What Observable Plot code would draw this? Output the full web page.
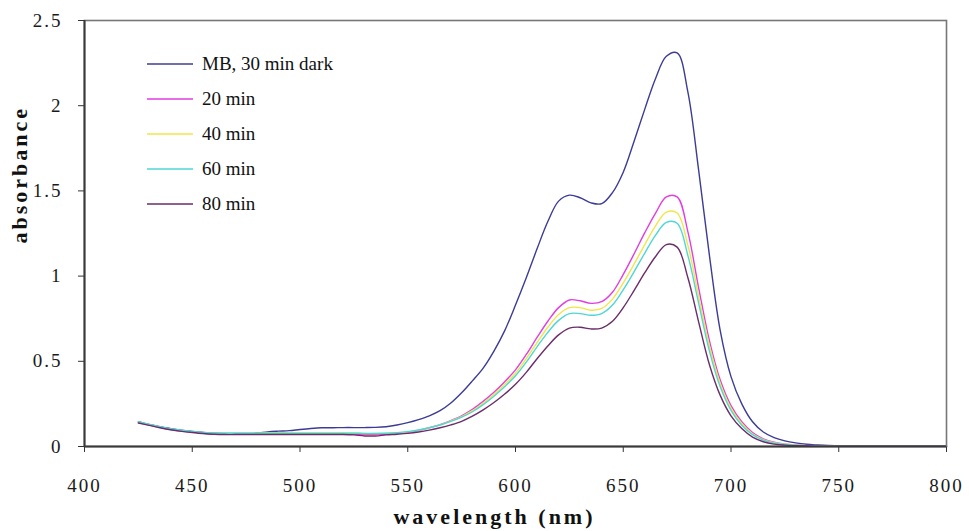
<!DOCTYPE html>
<html>
<head>
<meta charset="utf-8">
<script src="https://cdn.jsdelivr.net/npm/d3@7"></script>
<script src="https://cdn.jsdelivr.net/npm/@observablehq/plot@0.6"></script>
<style>
  html, body { margin: 0; padding: 0; background: #fff; }
  #wrap { position: relative; width: 969px; height: 531px; }
  #wrap svg text { font-family: "Liberation Serif", "Times New Roman", serif; }
  #legend { position: absolute; left: 147px; top: 0; font-family: "Liberation Serif", "Times New Roman", serif; font-size: 19px; color: #111; }
  .row { position: absolute; left: 0; height: 22px; display: flex; align-items: center; white-space: nowrap; }
  .row svg { margin-right: 9px; }
</style>
</head>
<body>
<div id="wrap"><div id="legend"></div></div>
<script>
const wavelengths = [425,430,435,440,445,450,455,460,465,470,475,480,485,490,495,500,505,510,515,520,525,530,535,540,545,550,555,560,565,570,575,580,585,590,595,600,605,610,615,620,625,630,635,640,645,650,655,660,665,670,675,680,685,690,695,700,705,710,715,720,725,730,735,740,745,750,755,760,765,770,775,780,785,790,795,800];

const mbDark = [0.145,0.130,0.116,0.105,0.095,0.088,0.082,0.078,0.077,0.077,0.077,0.079,0.086,0.090,0.093,0.100,0.106,0.110,0.110,0.111,0.111,0.111,0.112,0.116,0.126,0.140,0.158,0.180,0.210,0.255,0.315,0.385,0.460,0.560,0.680,0.830,0.990,1.160,1.320,1.440,1.475,1.460,1.430,1.425,1.490,1.610,1.790,1.980,2.160,2.290,2.310,2.080,1.620,1.120,0.680,0.410,0.250,0.145,0.085,0.052,0.033,0.021,0.013,0.009,0.006,0.005,0.004,0.004,0.003,0.003,0.003,0.003,0.003,0.003,0.003,0.003];

const min20 = [0.140,0.126,0.112,0.100,0.091,0.084,0.078,0.074,0.072,0.072,0.072,0.072,0.072,0.072,0.072,0.072,0.072,0.072,0.072,0.072,0.072,0.071,0.071,0.072,0.076,0.084,0.095,0.110,0.128,0.152,0.180,0.218,0.265,0.318,0.380,0.450,0.540,0.640,0.735,0.815,0.860,0.855,0.840,0.850,0.905,1.010,1.130,1.255,1.370,1.465,1.465,1.260,0.930,0.620,0.390,0.240,0.145,0.082,0.045,0.025,0.014,0.009,0.006,0.004,0.003,0.002,0.002,0.002,0.002,0.002,0.002,0.002,0.002,0.002,0.002,0.002];

const min40 = [0.142,0.128,0.114,0.102,0.093,0.086,0.080,0.077,0.076,0.076,0.077,0.078,0.080,0.081,0.080,0.080,0.079,0.079,0.079,0.079,0.079,0.076,0.076,0.078,0.080,0.086,0.096,0.110,0.127,0.150,0.176,0.210,0.255,0.305,0.365,0.430,0.515,0.610,0.700,0.775,0.815,0.815,0.800,0.810,0.865,0.960,1.070,1.185,1.295,1.375,1.370,1.180,0.880,0.590,0.370,0.225,0.135,0.075,0.040,0.022,0.013,0.008,0.005,0.004,0.003,0.002,0.002,0.002,0.002,0.002,0.002,0.002,0.002,0.002,0.002,0.002];

const min60 = [0.145,0.130,0.116,0.104,0.095,0.088,0.082,0.079,0.078,0.078,0.078,0.078,0.078,0.078,0.078,0.078,0.078,0.078,0.078,0.078,0.078,0.077,0.077,0.078,0.081,0.087,0.097,0.110,0.126,0.147,0.172,0.204,0.246,0.295,0.352,0.415,0.495,0.585,0.670,0.740,0.780,0.780,0.770,0.780,0.830,0.920,1.025,1.135,1.240,1.315,1.310,1.120,0.840,0.560,0.350,0.212,0.125,0.070,0.037,0.020,0.012,0.007,0.005,0.003,0.002,0.002,0.002,0.002,0.002,0.002,0.002,0.002,0.002,0.002,0.002,0.002];

const min80 = [0.138,0.124,0.110,0.098,0.089,0.082,0.076,0.072,0.070,0.070,0.070,0.070,0.070,0.070,0.070,0.070,0.070,0.070,0.070,0.070,0.068,0.062,0.062,0.068,0.072,0.077,0.085,0.096,0.110,0.127,0.148,0.178,0.215,0.258,0.308,0.365,0.435,0.515,0.590,0.655,0.695,0.700,0.690,0.695,0.735,0.815,0.915,1.020,1.115,1.185,1.170,0.990,0.730,0.480,0.300,0.180,0.105,0.055,0.028,0.014,0.008,0.005,0.003,0.002,0.002,0.002,0.002,0.002,0.002,0.002,0.002,0.002,0.002,0.002,0.002,0.002];

const seriesNames = ["MB, 30 min dark", "20 min", "40 min", "60 min", "80 min"];
const seriesColors = ["#3c3c96", "#e23de2", "#f0e64a", "#4fd6d6", "#6a2c6a"];
const seriesValues = [mbDark, min20, min40, min60, min80];

const xTicks = [400,450,500,550,600,650,700,750,800];
const yTicks = [0,0.5,1,1.5,2,2.5];
const xTitle = "wavelength (nm)";
const yTitle = "absorbance";

const data = seriesNames.flatMap((name, i) =>
  wavelengths.map((w, j) => ({w, a: seriesValues[i][j], name}))
);

const serif = "'Liberation Serif', 'Times New Roman', serif";

const chart = Plot.plot({
  width: 969,
  height: 531,
  marginLeft: 84,
  marginRight: 23,
  marginTop: 20,
  marginBottom: 85,
  style: {fontFamily: serif, fontSize: "19px", color: "#1a1a1a", background: "#fff"},
  x: {domain: [400, 800]},
  y: {domain: [0, 2.5]},
  color: {domain: seriesNames, range: seriesColors},
  marks: [
    Plot.frame({stroke: "#777", strokeWidth: 1.6}),
    Plot.axisX({ticks: xTicks, tickSize: 6, tickPadding: 26, label: null, tickFormat: d => String(d), stroke: "#333", fontFamily: serif, fontSize: 19, fontVariant: "normal"}),
    Plot.axisY({ticks: yTicks, tickSize: 6, tickPadding: 16, label: null, tickFormat: d => String(d), stroke: "#333", fontFamily: serif, fontSize: 19, fontVariant: "normal"}),
    Plot.line(data, {x: "w", y: "a", z: "name", stroke: "name", strokeWidth: 1.4, curve: "catmull-rom"}),
    Plot.ruleX([400], {stroke: "#3a3a3a", strokeWidth: 2}),
    Plot.ruleY([0], {stroke: "#3a3a3a", strokeWidth: 2}),
    Plot.text([xTitle], {text: d => d, frameAnchor: "bottom", dy: 77, dx: -21, fontWeight: "bold", fontSize: 22, fontFamily: serif, fill: "#111"}),
    Plot.text([yTitle], {text: d => d, frameAnchor: "left", rotate: -90, dx: -65, dy: 10, fontWeight: "bold", fontSize: 22, fontFamily: serif, fill: "#111"})
  ]
});

d3.select(chart).selectAll('g[aria-label="x-axis tick label"] text, g[aria-label="y-axis tick label"] text').attr("letter-spacing", "2px");
d3.select(chart).selectAll('g[aria-label="text"] text').attr("letter-spacing", "3px");

document.getElementById("wrap").insertBefore(chart, document.getElementById("legend"));

const legend = d3.select("#legend");
seriesNames.forEach((name, i) => {
  const row = legend.append("div").attr("class", "row").style("top", (53 + 35 * i) + "px");
  const sw = row.append("svg").attr("width", 46).attr("height", 6);
  sw.append("line").attr("x1", 0).attr("x2", 46).attr("y1", 3).attr("y2", 3)
    .attr("stroke", seriesColors[i]).attr("stroke-width", 1.6);
  row.append("span").text(name);
});
</script>
</body>
</html>
